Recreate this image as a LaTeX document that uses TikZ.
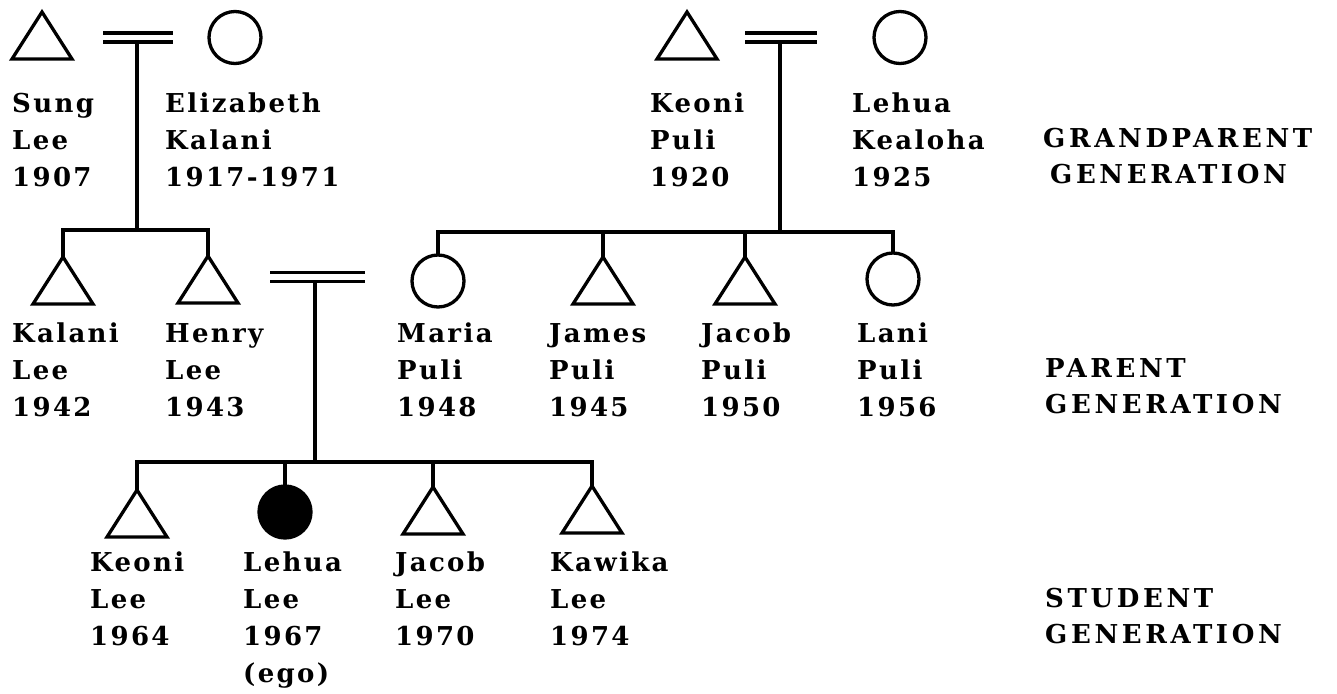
\documentclass[tikz,border=0pt]{standalone}
\usepackage{fontspec}
\setmainfont{DejaVu Serif Bold}[LetterSpace=9]
\newfontfamily\genfont{DejaVu Serif Bold}[LetterSpace=14]
\usetikzlibrary{shapes.geometric}
\tikzset{
  male/.style={draw, line width=3.3pt, shape=isosceles triangle, isosceles triangle stretches,
    minimum width=60pt, minimum height=47pt, inner sep=0pt, outer sep=0pt, rotate=90, anchor=apex},
  female/.style={draw, line width=3.3pt, circle, minimum size=52pt, inner sep=0pt, outer sep=0pt},
  ego/.style={female, fill=black},
  marr/.style={double, double distance=5.5pt, line width=3.3pt},
  kin/.style={line width=3.6pt},
  who/.style={anchor=north west, inner sep=0pt, align=left,
    font=\fontsize{26}{37}\selectfont},
  gen/.style={who, font=\genfont\fontsize{26}{36}\selectfont}
}
\newcommand{\fl}{\rule{0pt}{22pt}}
\begin{document}
\begin{tikzpicture}[x=1pt,y=-1pt]
\useasboundingbox (0,0) rectangle (1337,693);
% grandparents (Lee / Kalani)
\node[male] (sung) at (42,12) {};
\node[female] (eliz) at (235,37.5) {};
\coordinate (u1l) at (103,37.5);
\coordinate (u1r) at (173,37.5);
\coordinate (u1) at (137,42);
\coordinate (c1) at (137,230);
% grandparents (Puli / Kealoha)
\node[male] (keonip) at (687,12) {};
\node[female] (lehuak) at (900,37.5) {};
\coordinate (u2l) at (745,37.5);
\coordinate (u2r) at (817,37.5);
\coordinate (u2) at (780,42);
\coordinate (c2) at (780,232);
% parents
\node[male] (kalani) at (63,257) {};
\node[male] (henry) at (208,256) {};
\node[female] (maria) at (438,281) {};
\node[male] (james) at (603,257) {};
\node[male] (jacobp) at (745,257) {};
\node[female] (lani) at (893,279) {};
\coordinate (u3l) at (270,277);
\coordinate (u3r) at (365,277);
\coordinate (u3) at (315,282);
\coordinate (c3) at (315,462);
% students
\node[male] (keonil) at (137,490) {};
\node[ego] (lehual) at (285,512) {};
\node[male] (jacobl) at (433,487) {};
\node[male] (kawika) at (592,486) {};
% marriages
\draw[marr] (u1l) -- (u1r);
\draw[marr] (u2l) -- (u2r);
\draw[marr] (u3l) -- (u3r);
% descent lines
\draw[kin] (u1) -- (c1);
\draw[kin] (kalani.apex) |- (henry.apex |- c1) -- (henry.apex);
\draw[kin] (u2) -- (c2);
\draw[kin] (maria.north) |- (lani.north |- c2) -- (lani.north);
\draw[kin] (james.apex) -- (james.apex |- c2);
\draw[kin] (jacobp.apex) -- (jacobp.apex |- c2);
\draw[kin] (u3) -- (c3);
\draw[kin] (keonil.apex) |- (kawika.apex |- c3) -- (kawika.apex);
\draw[kin] (lehual.north) -- (lehual.north |- c3);
\draw[kin] (jacobl.apex) -- (jacobl.apex |- c3);
% names
\node[who] (tsung) at (12,90) {\fl Sung\\Lee\\1907};
\node[who] (teliz) at (165,90) {\fl Elizabeth\\Kalani\\1917-1971};
\node[who] (tkeonip) at (650,90) {\fl Keoni\\Puli\\1920};
\node[who] (tlehuak) at (852,90) {\fl Lehua\\Kealoha\\1925};
\node[who] (tkalani) at (12,320) {\fl Kalani\\Lee\\1942};
\node[who] (thenry) at (165,320) {\fl Henry\\Lee\\1943};
\node[who] (tmaria) at (397,320) {\fl Maria\\Puli\\1948};
\node[who] (tjames) at (549,320) {\fl James\\Puli\\1945};
\node[who] (tjacobp) at (701,320) {\fl Jacob\\Puli\\1950};
\node[who] (tlani) at (857,320) {\fl Lani\\Puli\\1956};
\node[who] (tkeonil) at (90,549) {\fl Keoni\\Lee\\1964};
\node[who] (tlehual) at (243,549) {\fl Lehua\\Lee\\1967\\(ego)};
\node[who] (tjacobl) at (395,549) {\fl Jacob\\Lee\\1970};
\node[who] (tkawika) at (550,549) {\fl Kawika\\Lee\\1974};
% generation labels
\node[gen] (g1) at (1043,125) {\fl GRANDPARENT\\\hspace{7pt}GENERATION};
\node[gen] (g2) at (1045,355) {\fl PARENT\\GENERATION};
\node[gen] (g3) at (1045,585) {\fl STUDENT\\GENERATION};
\end{tikzpicture}
\end{document}
